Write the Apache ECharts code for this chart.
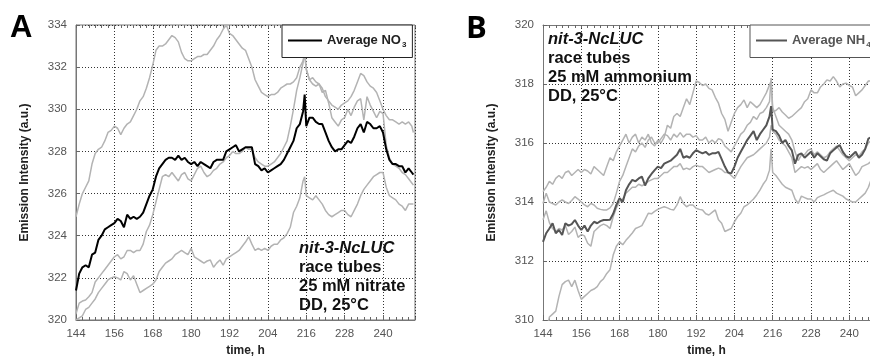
<!DOCTYPE html>
<html><head><meta charset="utf-8">
<script src="https://cdn.jsdelivr.net/npm/echarts@6/dist/echarts.min.js"></script>
<style>html,body{margin:0;padding:0;background:#fff}#c{width:870px;height:363px}</style>
</head><body><div id="c"></div>
<script>
// ---------- Panel A (25 mM nitrate) ----------
const timeA = [
144,145,146,147,148,149,150,151,152,153,154,155,
156,157,158,159,160,161,162,163,164,165,166,167,
168,169,170,171,172,173,174,175,176,177,178,179,
180,181,182,183,184,185,186,187,188,189,190,191,
192,193,194,195,196,197,198,199,200,201,202,203,
204,205,206,207,208,209,210,211,212,213,214,215,
215.5,
216,217,218,219,220,221,222,223,224,225,226,227,
228,229,230,231,232,233,234,235,236,237,238,239,
240,241,242,243,244,245,246,247,248,249,
249.5];
const avgNO3 = [
321.4,322.2,322.5,322.6,322.5,323.1,323.2,323.8,324.0,324.3,324.4,324.5,
324.6,324.8,324.7,324.4,325.0,324.8,324.9,324.8,324.9,325.1,325.5,325.9,
326.2,326.8,327.2,327.4,327.6,327.7,327.7,327.6,327.8,327.6,327.7,327.5,
327.4,327.5,327.3,327.5,327.4,327.3,327.2,327.5,327.6,327.6,327.6,328.0,
328.1,328.2,328.3,328.0,328.1,328.2,328.2,328.2,327.4,327.3,327.1,327.2,
327.0,327.1,327.2,327.3,327.4,327.6,327.9,328.2,328.5,329.1,329.3,329.9,
330.7,
329.2,329.6,329.6,329.4,329.3,329.3,328.9,328.5,328.2,328.0,328.1,328.1,
328.3,328.5,328.4,328.7,329.1,329.3,328.9,329.4,329.3,329.1,329.1,329.2,
328.9,328.1,327.6,327.4,327.4,327.3,327.3,327.0,327.2,327.0,
326.9];
const tubeA1 = [
324.9,325.5,326.0,326.3,326.6,327.4,327.9,328.1,328.2,328.5,328.9,329.0,
329.2,329.1,328.8,329.1,329.3,329.4,329.7,330.0,330.4,330.6,331.0,331.5,
332.1,332.8,333.0,333.0,333.1,333.3,333.5,333.4,333.2,332.7,332.4,332.3,
332.3,332.4,332.5,332.5,332.6,332.6,332.8,333.0,333.3,333.5,333.8,334.0,
333.6,333.5,333.3,333.1,332.9,332.8,332.4,332.0,331.4,331.1,330.8,330.7,
330.6,330.7,330.7,330.8,331.0,331.1,331.2,331.2,331.3,331.5,332.0,332.3,
332.6,
331.9,331.4,331.2,331.1,331.2,331.0,330.6,330.4,330.2,330.1,330.0,330.2,
330.3,330.4,330.6,330.9,331.3,331.7,331.6,331.3,331.1,331.0,330.8,330.4,
330.0,329.7,329.5,329.5,329.4,329.3,329.4,329.3,329.4,329.2,
328.9];
const tubeA2 = [
320.3,320.8,320.9,320.95,321.1,321.3,321.8,322.0,322.2,322.4,322.6,322.8,
323.0,323.1,322.9,323.0,323.3,323.3,323.2,323.3,323.3,323.6,324.2,324.5,
325.0,325.6,326.2,326.8,326.9,326.8,327.0,326.8,326.6,326.9,327.0,326.7,
326.6,326.9,327.2,327.3,327.0,326.8,326.9,327.1,327.2,327.4,327.5,327.7,
327.8,328.0,327.9,327.9,328.0,328.2,328.1,328.1,327.7,327.5,327.4,327.3,
327.3,327.4,327.5,327.7,327.9,328.2,328.5,329.2,330.0,330.9,331.5,332.2,
332.8,
331.9,331.4,331.5,331.3,331.2,330.8,330.9,330.3,329.6,329.4,329.2,329.5,
329.6,330.0,329.7,330.1,330.4,330.5,329.5,330.6,330.2,329.9,329.6,329.9,
329.8,328.3,327.7,327.4,327.3,327.2,327.0,326.9,326.7,326.5,
326.4];
const tubeA3 = [
320.0,320.1,320.2,320.5,320.6,320.8,321.0,321.3,321.5,321.7,321.9,322.0,
322.05,322.0,321.9,322.3,322.2,321.9,322.1,321.7,321.3,321.4,321.5,321.6,
321.7,321.9,322.3,322.5,322.7,322.8,322.9,323.1,323.2,323.3,323.2,323.1,
323.4,323.0,322.9,322.8,322.7,322.8,322.85,322.5,322.7,322.85,322.6,322.9,
323.0,323.1,323.2,323.3,323.5,323.7,323.95,323.6,323.3,323.4,323.3,323.4,
323.3,323.5,323.6,323.6,323.8,323.9,324.1,324.4,325.1,325.4,325.8,326.6,
326.8,
325.9,325.8,325.7,325.9,325.7,325.5,325.2,325.0,324.9,325.0,325.1,325.2,
325.2,325.0,324.9,325.2,325.5,325.9,326.2,326.4,326.6,326.8,326.9,327.0,
327.0,326.3,325.9,325.8,325.7,325.5,325.4,325.2,325.5,325.5,
325.5];

// ---------- Panel B (25 mM ammonium) ----------
const timeB = [
144,145,146,147,148,149,150,151,152,153,154,155,
156,157,158,159,160,161,162,163,164,165,166,167,
168,169,170,171,172,173,174,175,176,177,178,179,
180,181,182,183,184,185,186,187,188,189,190,191,
192,193,194,195,196,197,198,199,200,201,202,203,
204,205,206,207,208,209,210,211,212,213,214,215,
215.5,
216,217,218,219,220,221,222,223,224,225,226,227,
228,229,230,231,232,233,234,235,236,237,238,239,
240,241,242,243,244,245,246,247];
const avgNH4 = [
312.65,312.94,313.1,313.28,312.94,313.05,312.88,313.28,313.2,313.25,313.39,313.2,
313.05,313.2,313.0,313.2,313.33,313.28,313.35,313.39,313.39,313.4,313.6,313.9,
314.13,314.0,314.4,314.6,314.75,314.7,314.8,314.86,314.56,314.8,314.95,315.08,
315.2,315.15,315.3,315.35,315.4,315.5,315.6,315.8,315.5,315.55,315.5,315.65,
315.76,315.7,315.65,315.7,315.6,315.65,315.65,315.7,315.45,315.2,315.0,314.97,
315.2,315.5,315.7,315.9,316.1,316.25,316.4,316.1,316.3,316.45,316.6,316.9,
317.25,
316.45,316.4,316.25,316.0,316.1,315.9,315.75,315.3,315.6,315.65,315.5,315.6,
315.7,315.5,315.65,315.55,315.45,315.4,315.65,315.75,315.85,315.93,315.7,315.55,
315.5,315.6,315.7,315.5,315.6,315.8,316.15,316.2];
const tubeB1 = [
314.35,314.5,314.7,314.6,314.8,314.9,314.8,315.0,315.05,314.9,315.0,315.1,
315.0,315.1,315.05,314.95,315.2,315.1,315.0,314.9,315.2,315.5,315.4,315.7,
315.9,316.1,316.3,316.0,316.2,316.3,316.0,316.2,316.1,316.3,316.0,315.9,
316.1,316.0,316.2,316.6,316.5,316.9,317.0,316.9,317.2,317.5,317.3,317.7,
318.1,318.05,317.95,318.0,317.85,317.8,317.55,317.35,317.0,316.8,316.4,316.7,
317.0,317.2,317.3,317.46,317.2,317.4,317.3,317.2,317.3,317.5,317.7,317.97,
318.1,
317.06,317.1,317.2,317.05,316.95,316.84,316.9,317.0,317.1,317.2,317.4,317.5,
317.8,317.7,317.7,317.9,318.0,318.14,318.1,318.25,318.1,317.9,318.0,318.03,
317.95,317.9,317.6,317.7,317.8,317.95,318.1,318.1];
const tubeB2 = [
313.95,314.3,314.0,313.95,313.9,314.0,314.07,314.0,313.95,314.05,314.18,314.1,
314.0,313.9,313.84,313.95,313.9,313.79,313.75,313.73,313.73,313.8,313.95,314.3,
314.7,314.9,315.2,315.5,315.8,315.7,315.9,316.0,315.85,316.1,316.2,316.0,
316.0,316.15,316.3,316.25,316.1,316.3,316.2,316.35,316.2,316.3,316.3,316.2,
316.25,316.1,316.1,316.2,316.0,316.1,316.0,316.15,316.1,315.9,315.8,315.7,
315.9,316.1,316.3,316.4,316.6,316.7,316.9,316.8,317.0,317.05,317.2,317.4,
318.2,
317.2,316.9,316.6,316.5,316.4,316.3,316.1,315.7,315.4,315.6,315.6,315.75,
315.8,315.6,315.7,315.6,315.5,315.55,315.7,315.8,315.9,315.75,315.6,315.5,
315.4,315.5,315.6,315.55,315.7,315.8,316.0,316.1];
const tubeB3 = [
313.4,313.7,313.3,313.1,313.0,313.1,313.05,313.2,312.9,313.0,313.15,312.8,
312.9,312.85,312.6,312.5,313.0,313.1,313.2,313.25,313.2,313.1,313.5,313.8,
314.0,314.1,314.3,314.4,314.5,314.5,314.6,314.55,314.6,314.7,314.75,314.8,
314.8,314.9,315.0,315.0,315.1,315.2,315.2,315.3,315.1,315.15,315.1,315.2,
315.25,315.2,315.2,315.1,315.0,315.05,315.1,315.15,315.1,315.0,315.0,314.9,
314.8,315.0,315.2,315.35,315.5,315.55,315.6,315.7,315.8,315.9,316.0,316.2,
316.6,
316.4,316.3,316.1,316.0,315.9,315.7,315.5,315.0,315.1,315.2,315.15,315.2,
315.1,315.2,315.3,315.1,315.0,315.1,315.2,315.3,315.4,315.25,315.1,315.2,
315.3,315.1,314.9,315.0,315.2,315.25,315.3,315.4];
const tubeB4 = [
308.9,309.5,310.1,310.2,310.3,310.8,311.2,311.3,311.35,311.13,311.35,311.0,
310.7,310.8,310.9,311.0,311.05,311.13,311.3,311.4,311.58,311.7,312.2,312.5,
312.65,312.55,312.7,312.82,312.95,313.1,313.15,313.2,313.4,313.62,313.6,313.68,
313.75,313.8,313.84,313.8,313.75,313.73,313.9,314.18,313.95,313.84,313.9,313.9,
313.79,313.75,313.73,313.6,313.56,313.65,313.73,313.4,313.28,313.0,313.05,313.1,
313.33,313.5,313.62,313.84,313.9,314.0,314.1,314.24,314.4,314.6,314.75,315.08,
315.8,
315.0,314.9,314.75,314.6,314.5,314.45,314.4,314.1,313.95,314.2,314.15,314.1,
314.1,314.0,314.15,314.2,314.24,314.3,314.35,314.4,314.3,314.25,314.2,314.1,
314.05,314.0,314.0,314.1,314.2,314.3,314.5,314.8];

// axis ranges (panel B is cut off at the right edge of the figure)
const xRangeA = [144, 250];
const xRangeB = [144, 246.5];
const yRangeA = [320, 334];
const yRangeB = [310, 320];

const FONT = '"Liberation Sans", Arial, sans-serif';
const GRAY = '#b3b3b3';
const pts = (t, v) => t.map((x, i) => [x, v[i]]);

function mainX(gi, r) {
  return {
    type: 'value', gridIndex: gi, min: r[0], max: r[1], interval: 12, position: 'bottom',
    name: 'time, h', nameLocation: 'middle', nameGap: 25,
    nameTextStyle: { fontFamily: FONT, fontWeight: 'bold', fontSize: 12, color: '#222' },
    axisLine: { onZero: false, lineStyle: { color: '#777', width: 1 } },
    axisTick: { inside: true, length: 5, lineStyle: { color: '#666' } },
    axisLabel: { fontFamily: FONT, fontSize: 11.5, color: '#555', margin: 8, showMaxLabel: false },
    splitLine: { show: true, lineStyle: { color: '#333', width: 1, type: [1, 2] } }
  };
}
function minorX(gi, r, pos, showLine) {
  return {
    type: 'value', gridIndex: gi, min: r[0], max: r[1], interval: 2, position: pos,
    axisLine: { show: !!showLine, onZero: false, lineStyle: { color: '#777', width: 1 } },
    axisTick: { show: true, inside: true, length: 3, lineStyle: { color: '#666' } },
    axisLabel: { show: false }, splitLine: { show: false }
  };
}
function mainY(gi, r) {
  return {
    type: 'value', gridIndex: gi, min: r[0], max: r[1], interval: 2,
    name: 'Emission Intensity (a.u.)', nameLocation: 'middle', nameGap: 45,
    nameTextStyle: { fontFamily: FONT, fontWeight: 'bold', fontSize: 12, color: '#222' },
    axisLine: { onZero: false, lineStyle: { color: '#777', width: 1 } },
    axisTick: { inside: true, length: 4, lineStyle: { color: '#666' } },
    axisLabel: { fontFamily: FONT, fontSize: 11.5, color: '#555', margin: 9 },
    splitLine: { show: true, lineStyle: { color: '#333', width: 1, type: [1, 2] } }
  };
}
function grayLine(xi, yi, t, v) {
  return { type: 'line', xAxisIndex: xi, yAxisIndex: yi, data: pts(t, v), symbol: 'none',
    lineStyle: { color: GRAY, width: 1.5 }, z: 2, silent: true };
}
function legendOf(name, left, color, lineW, sub) {
  return { data: [name], left: left, top: 25, orient: 'horizontal',
    backgroundColor: '#fff', borderColor: color, borderWidth: 1, padding: [9, 6, 9, 6],
    icon: 'rect', itemWidth: lineW, itemHeight: 2, itemGap: 0,
    formatter: () => '{b|' + name.slice(0, -1) + '}{s|' + sub + '}',
    textStyle: { fontFamily: FONT, color: color, padding: [0, 0, 0, 0], rich: {
      b: { fontFamily: FONT, fontSize: 13, fontWeight: 'bold', color: color, lineHeight: 16 },
      s: { fontFamily: FONT, fontSize: 8, fontWeight: 'bold', color: color, lineHeight: 8, verticalAlign: 'bottom', padding: [6, 0, 0, 1] } } } };
}

const chart = echarts.init(document.getElementById('c'), null, { renderer: 'canvas' });
chart.setOption({
  animation: false,
  backgroundColor: '#fff',
  grid: [
    { left: 76, top: 25, width: 339, height: 295, show: true, borderColor: '#777', borderWidth: 1, backgroundColor: 'transparent' },
    { left: 543, top: 25, width: 327, height: 295, show: false }
  ],
  xAxis: [mainX(0, xRangeA), minorX(0, xRangeA, 'bottom'), minorX(0, xRangeA, 'top'),
          mainX(1, xRangeB), minorX(1, xRangeB, 'bottom'), minorX(1, xRangeB, 'top', true)],
  yAxis: [mainY(0, yRangeA), mainY(1, yRangeB)],
  legend: [
    legendOf('Average NO3', 282, '#222', 34, '3'),
    legendOf('Average NH4', 750, '#555', 31, '4')
  ],
  series: [
    grayLine(0, 0, timeA, tubeA1),
    grayLine(0, 0, timeA, tubeA2),
    grayLine(0, 0, timeA, tubeA3),
    { name: 'Average NO3', type: 'line', xAxisIndex: 0, yAxisIndex: 0, data: pts(timeA, avgNO3), symbol: 'none',
      lineStyle: { color: '#000', width: 2 }, itemStyle: { color: '#000' }, z: 3 },
    grayLine(3, 1, timeB, tubeB1),
    grayLine(3, 1, timeB, tubeB2),
    grayLine(3, 1, timeB, tubeB3),
    grayLine(3, 1, timeB, tubeB4),
    { name: 'Average NH4', type: 'line', xAxisIndex: 3, yAxisIndex: 1, data: pts(timeB, avgNH4), symbol: 'none',
      lineStyle: { color: '#555', width: 2 }, itemStyle: { color: '#555' }, z: 3 }
  ],
  graphic: [
    { type: 'text', left: 10, top: 13, z: 10, style: { text: 'A', font: 'bold 31px "Liberation Sans", Arial, sans-serif', fill: '#000' } },
    { type: 'text', left: 466, top: 14, z: 10, style: { text: 'B', font: 'bold 31px "Open Sans", sans-serif', fill: '#000' } },
    { type: 'text', left: 299, top: 240, z: 10, style: {
        text: '{i|nit-3-NcLUC}\n{n|race tubes}\n{n|25 mM nitrate}\n{n|DD, 25°C}',
        rich: {
          i: { fontFamily: FONT, fontSize: 16.5, fontWeight: 'bold', fontStyle: 'italic', fill: '#111', lineHeight: 19 },
          n: { fontFamily: FONT, fontSize: 16.5, fontWeight: 'bold', fill: '#111', lineHeight: 19 } } } },
    { type: 'text', left: 548, top: 31, z: 10, style: {
        text: '{i|nit-3-NcLUC}\n{n|race tubes}\n{n|25 mM ammonium}\n{n|DD, 25°C}',
        rich: {
          i: { fontFamily: FONT, fontSize: 16.5, fontWeight: 'bold', fontStyle: 'italic', fill: '#111', lineHeight: 19 },
          n: { fontFamily: FONT, fontSize: 16.5, fontWeight: 'bold', fill: '#111', lineHeight: 19 } } } }
  ]
});
</script>
</body></html>
